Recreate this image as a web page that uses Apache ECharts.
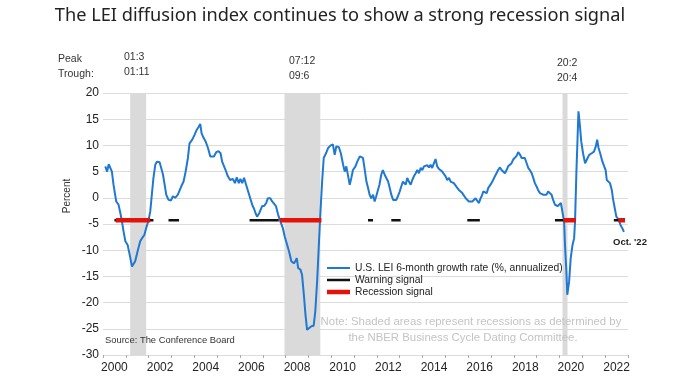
<!DOCTYPE html>
<html>
<head>
<meta charset="utf-8">
<script src="https://cdn.jsdelivr.net/npm/echarts@6/dist/echarts.min.js"></script>
<style>
html,body{margin:0;padding:0;background:#fff;}
#chart{width:680px;height:382px;}
</style>
</head>
<body>
<div id="chart"></div>
<script>
// ---- Data (decimal years) ----
const leiDates = [
2000.10,2000.18,2000.25,2000.32,2000.39,2000.46,2000.58,2000.68,2000.76,2000.83,2000.90,2000.98,
2001.08,2001.17,2001.27,2001.31,2001.41,2001.51,2001.63,2001.71,2001.81,2001.89,
2002.00,2002.07,2002.14,2002.21,2002.29,2002.36,2002.48,2002.55,2002.63,2002.70,2002.77,2002.87,2002.98,
2003.06,2003.16,2003.28,2003.43,2003.53,2003.62,2003.72,2003.79,2003.91,
2004.01,2004.11,2004.20,2004.26,2004.32,2004.40,2004.49,2004.60,2004.70,2004.78,2004.86,2004.96,
2005.06,2005.15,2005.22,2005.30,2005.37,2005.47,2005.57,2005.69,2005.78,2005.86,2005.95,
2006.02,2006.10,2006.18,2006.27,2006.36,2006.45,2006.56,2006.61,2006.68,2006.75,2006.85,2006.97,
2007.07,2007.15,2007.22,2007.26,2007.33,2007.41,2007.48,2007.58,2007.67,2007.77,2007.88,2007.96,
2008.07,2008.17,2008.25,2008.36,2008.43,2008.49,2008.55,2008.65,2008.72,2008.80,2008.87,2008.94,
2009.02,2009.13,2009.23,2009.30,2009.38,2009.45,2009.52,2009.60,2009.67,2009.77,2009.86,2009.98,
2010.07,2010.15,2010.22,2010.33,2010.42,2010.52,2010.59,2010.66,2010.74,2010.81,2010.88,2010.95,
2011.06,2011.14,2011.25,2011.32,2011.39,2011.47,2011.54,2011.61,2011.68,2011.75,2011.83,2011.90,2011.97,
2012.05,2012.11,2012.19,2012.26,2012.34,2012.41,2012.49,2012.56,2012.63,2012.71,2012.78,2012.85,2012.92,
2013.00,2013.07,2013.14,2013.20,2013.26,2013.33,2013.40,2013.48,2013.55,2013.62,2013.70,2013.77,2013.84,2013.92,2013.99,
2014.06,2014.14,2014.21,2014.28,2014.35,2014.42,2014.50,2014.57,2014.64,2014.72,2014.79,2014.86,2014.94,
2015.01,2015.08,2015.16,2015.23,2015.30,2015.37,2015.45,2015.52,2015.59,2015.67,2015.74,2015.81,2015.89,2015.96,
2016.03,2016.11,2016.18,2016.25,2016.32,2016.39,2016.47,2016.54,2016.59,2016.66,2016.73,2016.81,2016.88,2016.95,
2017.02,2017.09,2017.17,2017.24,2017.31,2017.39,2017.46,2017.53,2017.61,2017.68,2017.75,2017.83,2017.90,2017.97,
2018.04,2018.12,2018.19,2018.26,2018.34,2018.41,2018.48,2018.56,2018.63,2018.70,2018.78,2018.85,2018.92,2018.99,
2019.06,2019.14,2019.21,2019.28,2019.35,2019.43,2019.50,2019.58,2019.65,2019.72,2019.80,2019.87,2019.91,2019.98,
2020.06,2020.13,2020.20,2020.24,2020.30,2020.34,2020.42,2020.49,2020.57,2020.64,2020.68,2020.74,2020.79,2020.83,2020.89,2020.95,
2021.03,2021.12,2021.23,2021.30,2021.41,2021.51,2021.59,2021.65,2021.71,2021.78,2021.88,2021.95,
2022.02,2022.07,2022.14,2022.21,2022.29,2022.34,2022.42,2022.49,2022.55,2022.60,2022.67,2022.75,2022.82
];
const leiValues = [
6.0,5.0,6.4,6.3,5.0,2.5,-0.7,-1.3,-2.9,-4.5,-6.4,-8.3,
-9.0,-10.9,-13.1,-13.4,-12.1,-10.3,-8.3,-7.7,-7.1,-5.8,
-4.2,-2.6,0.6,3.8,6.3,6.9,6.8,5.7,4.4,2.5,0.6,-0.4,-0.5,
0.3,0.0,0.6,2.2,3.1,5.0,7.6,10.4,11.1,
12.0,13.0,13.6,14.1,12.3,11.5,10.8,9.5,7.9,7.7,7.9,8.7,
8.9,8.5,6.9,6.7,5.3,4.1,3.4,3.6,2.8,3.9,2.8,
3.6,2.8,3.8,2.5,1.2,-0.1,-1.6,-2.0,-2.9,-3.6,-2.9,-1.6,
-1.5,-1.0,-0.1,-0.4,-0.1,-0.7,-1.0,-1.6,-3.2,-4.5,-5.8,-7.4,
-9.0,-10.6,-12.1,-12.5,-12.1,-11.5,-13.4,-13.7,-14.7,-18.5,-22.3,-25.2,
-24.9,-24.5,-24.4,-21.7,-16.0,-9.6,-3.2,3.1,7.6,8.5,9.5,10.0,
10.2,8.2,9.8,9.7,8.5,6.3,5.0,6.0,4.1,2.5,3.8,5.3,
6.0,6.9,7.9,8.2,7.6,5.3,3.1,1.9,0.6,-0.1,0.6,-0.7,0.3,
0.3,2.5,4.4,5.3,4.4,4.1,3.1,1.9,0.6,-0.4,-0.7,-0.4,0.3,
1.2,2.2,3.1,2.8,2.5,3.8,3.1,2.5,3.4,4.1,4.7,5.3,4.7,5.7,5.3,
6.0,5.7,6.2,5.8,6.3,5.7,6.6,7.4,6.0,5.5,5.3,5.0,4.7,
4.1,3.4,3.8,3.1,3.4,2.8,2.5,1.9,1.5,1.2,0.9,0.6,-0.1,-0.4,
-0.7,-0.4,-0.7,-0.4,-0.1,-0.4,-1.0,-0.1,0.3,1.2,1.5,0.9,1.9,2.2,
2.8,3.4,4.1,4.7,5.3,5.8,5.3,5.0,4.7,5.3,6.0,6.2,6.6,7.3,
7.6,8.0,8.7,8.3,7.6,7.3,7.6,6.6,5.7,5.3,4.7,3.8,2.8,2.2,
1.5,0.9,0.6,0.6,0.7,0.6,1.2,1.5,0.6,-0.4,-1.3,-1.3,-1.6,-1.3,
-1.0,-0.9,-4.5,-9.0,-14.0,-18.5,-16.0,-11.5,-9.0,-7.7,-4.5,5.0,11.4,16.5,13.9,10.8,
8.5,6.6,7.6,8.2,8.5,8.8,9.8,11.1,9.5,8.5,6.9,6.7,
5.3,3.4,3.1,2.8,1.5,-0.1,-2.0,-3.6,-3.3,-4.2,-5.2,-5.8,-6.5
];
const signalLevel = -4.3;
const warningStart = [2000.50, 2002.87, 2006.42, 2011.61, 2012.63, 2015.96, 2019.80, 2022.38];
const warningEnd   = [2002.21, 2003.33, 2007.70, 2011.83, 2013.04, 2016.51, 2020.17, 2022.60];
const recSignalStart = [2000.56, 2007.75, 2020.17, 2022.58];
const recSignalEnd   = [2002.07, 2009.57, 2020.72, 2022.87];
const recessionStart = [2001.19, 2007.95, 2020.13];
const recessionEnd   = [2001.89, 2009.52, 2020.35];
const peakLabels   = ['01:3', '07:12', '20:2'];
const troughLabels = ['01:11', '09:6', '20:4'];
const yearLabels = [];
for (let y = 2000; y <= 2022; y++) yearLabels.push(String(y));

const seriesNames = ['U.S. LEI 6-month growth rate (%, annualized)', 'Warning signal', 'Recession signal'];
const BLUE = '#1f78d2', BLACK = '#111111', RED = '#e3120b';
const FONT = 'Liberation Sans, Arial, sans-serif';

const series = [];
series.push({
  name: seriesNames[0], type: 'line', xAxisIndex: 0, yAxisIndex: 0,
  data: leiDates.map((d, i) => [d, leiValues[i]]),
  showSymbol: false, symbol: 'none', smooth: false,
  lineStyle: { color: BLUE, width: 2 }, itemStyle: { color: BLUE },
  z: 3,
  markArea: {
    silent: true,
    itemStyle: { color: '#dadada' },
    data: recessionStart.map((s, i) => [{ xAxis: s }, { xAxis: recessionEnd[i] }])
  }
});
warningStart.forEach((s, i) => {
  series.push({
    name: seriesNames[1], type: 'line', xAxisIndex: 0, yAxisIndex: 0,
    data: [[s, signalLevel], [warningEnd[i], signalLevel]],
    symbol: 'none', lineStyle: { color: BLACK, width: 2.5 }, itemStyle: { color: BLACK }, z: 4
  });
});
recSignalStart.forEach((s, i) => {
  series.push({
    name: seriesNames[2], type: 'line', xAxisIndex: 0, yAxisIndex: 0,
    data: [[s, signalLevel], [recSignalEnd[i], signalLevel]],
    symbol: 'none', lineStyle: { color: RED, width: 4.5 }, itemStyle: { color: RED }, z: 5
  });
});

function legendRow(name, top, h, color) {
  return {
    data: [name], left: 327, top: top, orient: 'horizontal', padding: 0,
    itemWidth: 23, itemHeight: h, icon: 'rect', selectedMode: false,
    itemStyle: { color: color }, z: 20,
    textStyle: { fontFamily: FONT, fontSize: 10.3, color: '#222', lineHeight: 12 }
  };
}

const graphics = [];
function txt(text, x, y, size, color, align, extra) {
  graphics.push(Object.assign({
    type: 'text', x: x, y: y, silent: true, z: 100,
    style: { text: text, font: size + 'px ' + FONT, fill: color, textAlign: align || 'left', textVerticalAlign: 'middle' }
  }, extra || {}));
}
txt('Peak', 58, 59, 10.5, '#333');
txt('Trough:', 58, 74, 10.5, '#333');
const peakX = [124, 289, 557];
const peakY = [57.5, 61, 63];
peakLabels.forEach((p, i) => {
  txt(p, peakX[i], peakY[i], 10.5, '#333');
  txt(troughLabels[i], peakX[i], peakY[i] + 15, 10.5, '#333');
});
txt('Percent', 67, 196, 10, '#333', 'center', { rotation: Math.PI / 2 });
txt('Source: The Conference Board', 105, 340, 9.4, '#333');
txt('Note: Shaded areas represent recessions as determined by', 471, 322, 11.4, '#c4c4c4', 'center');
txt('the NBER Business Cycle Dating Committee.', 463, 338, 11.4, '#c4c4c4', 'center');
graphics.push({
  type: 'text', x: 613, y: 242, silent: true, z: 100,
  style: { text: "Oct. '22", font: 'bold 9.5px ' + FONT, fill: '#222', textAlign: 'left', textVerticalAlign: 'middle' }
});

const option = {
  animation: false,
  backgroundColor: '#ffffff',
  title: {
    text: 'The LEI diffusion index continues to show a strong recession signal',
    left: 'center', top: 2,
    textStyle: { fontFamily: 'Noto Sans, sans-serif', fontSize: 18.2, fontWeight: 'normal', color: '#222' }
  },
  grid: { left: 103, right: 52, top: 93, bottom: 27 },
  legend: [
    legendRow(seriesNames[0], 262, 2, BLUE),
    legendRow(seriesNames[1], 274, 2.5, BLACK),
    legendRow(seriesNames[2], 286, 4.5, RED)
  ],
  xAxis: [
    { type: 'value', min: 2000, max: 2023, show: false },
    {
      type: 'category', data: yearLabels, boundaryGap: true, position: 'bottom',
      axisLine: { show: false },
      axisTick: { show: true, interval: 0, alignWithLabel: false, length: 3, lineStyle: { color: '#aaa' } },
      axisLabel: { interval: 1, margin: 7, fontFamily: FONT, fontSize: 12, color: '#222' },
      splitLine: { show: false }
    }
  ],
  yAxis: {
    type: 'value', min: -30, max: 20, interval: 5,
    axisLine: { show: false }, axisTick: { show: false },
    axisLabel: { margin: 4, fontFamily: FONT, fontSize: 12, color: '#222' },
    splitLine: { lineStyle: { color: '#dcdcdc', width: 1 } }
  },
  graphic: graphics,
  series: series
};

const chart = echarts.init(document.getElementById('chart'), null, { renderer: 'canvas' });
chart.setOption(option);
</script>
</body>
</html>
